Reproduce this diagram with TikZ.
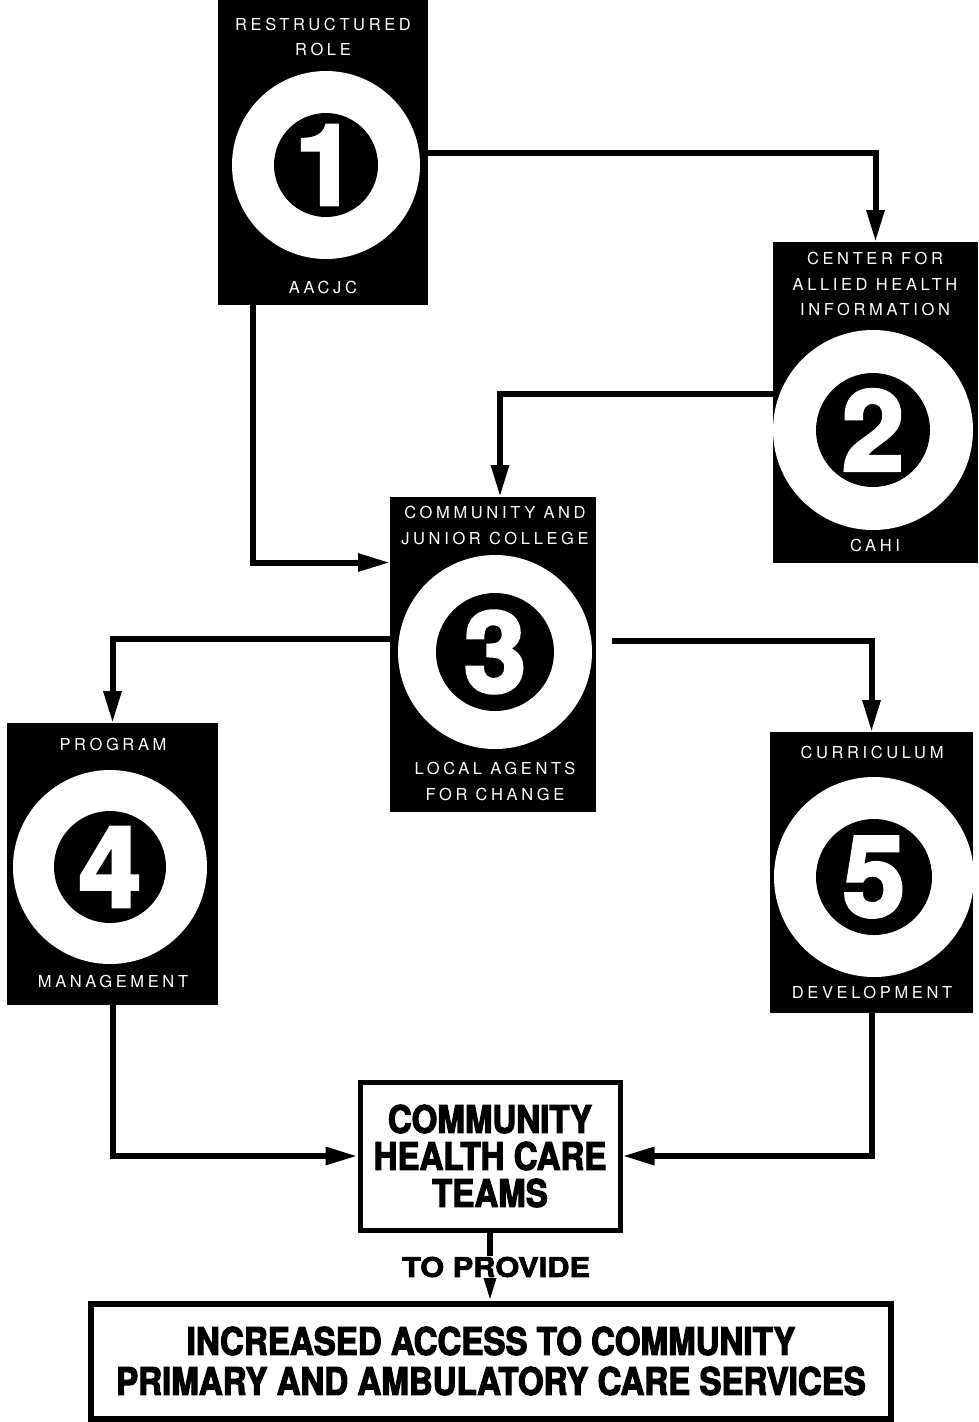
\documentclass[tikz,border=0pt]{standalone}
\usepackage{fontspec}
\setmainfont{TeX Gyre Heros}
\newfontfamily\lblfont{TeX Gyre Heros}[LetterSpace=22]
\newfontfamily\digfont{TeX Gyre Heros}[FakeBold=3]
\newfontfamily\condfont{TeX Gyre Heros}[FakeStretch=0.87,FakeBold=3]
\newfontfamily\provfont{TeX Gyre Heros}[FakeStretch=1.14,FakeBold=3]
\usetikzlibrary{arrows.meta}
\begin{document}
\begin{tikzpicture}[x=1pt,y=-1pt,
  bbox/.style={rectangle,fill=black,inner sep=0pt,outer sep=0pt},
  ring/.style={circle,fill=white,inner sep=0pt,minimum size=#1},
  hole/.style={circle,fill=black,inner sep=0pt,minimum size=#1},
  digit/.style={text=white,font=\digfont\bfseries\fontsize{112}{112}\selectfont,inner sep=0pt},
  lbl/.style={text=white,font=\lblfont\fontsize{16.5}{25.5}\selectfont,align=center,inner sep=0pt},
  conn/.style={line width=6pt,-{Triangle[length=32pt,width=17pt]}},
  wbox/.style={rectangle,draw=black,fill=white,line width=5pt,inner sep=0pt,align=center},
]
\useasboundingbox (0,0) rectangle (978,1422);
\fill[white] (0,0) rectangle (978,1422);

% box 1
\node[bbox,minimum width=210pt,minimum height=305pt] (b1) at (323,152.5) {};
\node[ring=188pt] (r1) at (326,165) {};
\node[hole=104pt] (h1) at (326,165) {};
\node[digit] (d1) at (326,165) {1};
\node[lbl] (t1a) at (323,37) {RESTRUCTURED\\ROLE};
\node[lbl] (t1b) at (323,287) {AACJC};

% box 2
\node[bbox,minimum width=205pt,minimum height=321pt] (b2) at (875.5,402.5) {};
\node[ring=200pt] (r2) at (873,430) {};
\node[hole=114pt] (h2) at (873,430) {};
\node[digit] (d2) at (873,430) {2};
\node[lbl] (t2a) at (875,284) {CENTER FOR\\ALLIED HEALTH\\INFORMATION};
\node[lbl] (t2b) at (875,545) {CAHI};

% box 3
\node[bbox,minimum width=206pt,minimum height=315pt] (b3) at (493,654.5) {};
\node[ring=194pt] (r3) at (495,652) {};
\node[hole=118pt] (h3) at (495,652) {};
\node[digit] (d3) at (495,652) {3};
\node[lbl] (t3a) at (495,525.5) {COMMUNITY AND\\JUNIOR COLLEGE};
\node[lbl] (t3b) at (495,781.5) {LOCAL AGENTS\\FOR CHANGE};

% box 4
\node[bbox,minimum width=211pt,minimum height=282pt] (b4) at (112.5,864) {};
\node[ring=194pt] (r4) at (110,867) {};
\node[hole=112pt] (h4) at (110,867) {};
\node[digit] (d4) at (110,867) {4};
\node[lbl] (t4a) at (113,744) {PROGRAM};
\node[lbl] (t4b) at (113,981) {MANAGEMENT};

% box 5
\node[bbox,minimum width=203pt,minimum height=281pt] (b5) at (871.5,872.5) {};
\node[ring=200pt] (r5) at (874,877) {};
\node[hole=116pt] (h5) at (874,877) {};
\node[digit] (d5) at (874,877) {5};
\node[lbl] (t5a) at (872,752) {CURRICULUM};
\node[lbl] (t5b) at (872,992) {DEVELOPMENT};

% white boxes
\node[wbox,minimum width=260pt,minimum height=148pt,
      font=\condfont\bfseries\fontsize{38}{37}\selectfont] (chct) at (490,1156)
      {COMMUNITY\\HEALTH CARE\\TEAMS};
\node[wbox,line width=6pt,minimum width=800pt,minimum height=115pt,
      font=\condfont\bfseries\fontsize{38}{40}\selectfont] (final) at (491,1361)
      {INCREASED ACCESS TO COMMUNITY\\PRIMARY AND AMBULATORY CARE SERVICES};

% connectors
\draw[conn] (b1.east) -| (b2.north);
\draw[conn] ([xshift=-70pt]b1.south) |- ([yshift=92pt]b3.west);
\draw[conn] ([yshift=9pt]b2.west) -| ([xshift=7pt]b3.north);
\draw[conn] ([yshift=16pt]b3.west) -| (b4.north);
\draw[conn] ([xshift=16pt,yshift=14pt]b3.east) -| (b5.north);
\draw[conn] (b4.south) |- (chct.west);
\draw[conn] (b5.south) |- (chct.east);
\draw[conn] (chct.south) -- (chct.south |- final.north);

\node[fill=white,inner sep=1pt,font=\provfont\bfseries\fontsize{27}{27}\selectfont] (tp) at (496,1267) {TO PROVIDE};
\end{tikzpicture}
\end{document}
